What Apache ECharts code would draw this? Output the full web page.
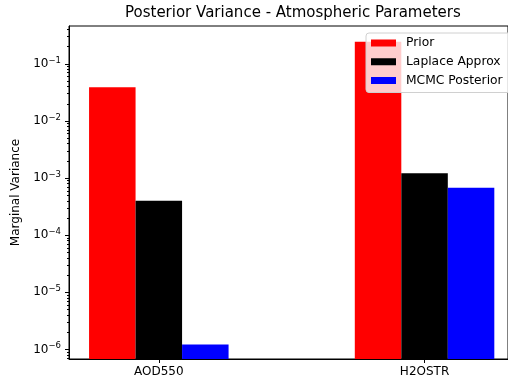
<!DOCTYPE html>
<html>
<head>
<meta charset="utf-8">
<script src="https://cdn.jsdelivr.net/npm/echarts@6/dist/echarts.min.js"></script>
<style>html,body{margin:0;padding:0;background:#fff}#c{width:508px;height:389px}</style>
</head>
<body>
<div id="c"></div>
<script>
const categories = ['AOD550', 'H2OSTR'];
const seriesNames = ['Prior', 'Laplace Approx', 'MCMC Posterior'];
const prior = [0.039, 0.243];
const laplace = [4.0e-4, 1.22e-3];
const mcmc = [1.22e-6, 6.8e-4];
const yMajorTicks = [1e-6, 1e-5, 1e-4, 1e-3, 1e-2, 1e-1];
const yExponents = ['−6', '−5', '−4', '−3', '−2', '−1'];
const colors = ['#ff0000', '#000000', '#0000ff'];

const yMin = 6.8e-7, yMax = 0.46;
const barW = 0.175; // bar width in x-axis units
const minorTicks = [];
for (let e = -7; e <= 0; e++) {
  for (let m = 2; m <= 9; m++) {
    const v = m * Math.pow(10, e);
    if (v > yMin && v < yMax) minorTicks.push(v);
  }
}

const font = 'DejaVu Sans';
const chart = echarts.init(document.getElementById('c'));
const allValues = [prior, laplace, mcmc];

function makeRender(s) {
  return function (params, api) {
    const x = api.value(0) + (s - 1) * barW;
    const top = api.coord([x, api.value(1)]);
    const bot = api.coord([x, yMin]);
    const w = api.size([barW, 0])[0];
    const rect = echarts.graphic.clipRectByRect({
      x: top[0] - w / 2, y: top[1], width: w, height: bot[1] - top[1]
    }, {
      x: params.coordSys.x, y: params.coordSys.y,
      width: params.coordSys.width, height: params.coordSys.height
    });
    return rect && {
      type: 'rect', shape: rect,
      style: { fill: colors[s] }
    };
  };
}

chart.setOption({
  animation: false,
  textStyle: { fontFamily: font },
  title: {
    text: 'Posterior Variance - Atmospheric Parameters',
    left: 125, top: 6, padding: 0,
    textStyle: { fontFamily: font, fontWeight: 'normal', fontSize: 15, color: '#000' }
  },
  grid: {
    left: 69, right: -1, top: 26, bottom: 30,
    show: true, borderColor: '#000', borderWidth: 1, backgroundColor: 'transparent'
  },
  legend: {
    orient: 'vertical', left: 366, top: 33,
    itemWidth: 25, itemHeight: 7, itemGap: 6.75,
    padding: [4, 14, 6, 5],
    backgroundColor: 'rgba(255,255,255,0.8)',
    borderColor: '#d0d0d0', borderWidth: 1, borderRadius: 3,
    icon: 'rect',
    textStyle: { fontFamily: font, fontSize: 12.3, color: '#000', padding: [0, 0, 0, 5] },
    data: seriesNames
  },
  xAxis: {
    type: 'value', min: -0.338, max: 1.314,
    splitLine: { show: false },
    axisLine: { show: true, onZero: false, lineStyle: { color: '#000', width: 1 } },
    axisTick: { show: true, length: 4, customValues: [0, 1], lineStyle: { color: '#000' } },
    axisLabel: {
      customValues: [0, 1], margin: 7,
      fontFamily: font, fontSize: 12, color: '#000',
      formatter: v => categories[Math.round(v)] || ''
    }
  },
  yAxis: [{
    type: 'log', logBase: 10, min: yMin, max: yMax, position: 'left',
    name: 'Marginal Variance', nameLocation: 'middle', nameGap: 37,
    nameTextStyle: { fontFamily: font, fontSize: 12, color: '#000' },
    splitLine: { show: false },
    axisLine: { show: true, onZero: false, lineStyle: { color: '#000', width: 1 } },
    axisTick: { show: true, length: 4, customValues: yMajorTicks, lineStyle: { color: '#000' } },
    axisLabel: {
      customValues: yMajorTicks, margin: 8,
      color: '#000',
      formatter: v => {
        const i = yMajorTicks.findIndex(t => Math.abs(Math.log10(t) - Math.log10(v)) < 1e-6);
        return i >= 0 ? '{b|10}{s|' + yExponents[i] + '}' : '';
      },
      rich: {
        b: { fontFamily: font, fontSize: 12, color: '#000' },
        s: { fontFamily: font, fontSize: 8.5, color: '#000', verticalAlign: 'bottom', padding: [0, 0, 7, 0] }
      }
    }
  }, {
    type: 'log', logBase: 10, min: yMin, max: yMax, position: 'left', offset: 0,
    splitLine: { show: false },
    axisLine: { show: false, onZero: false },
    axisTick: { show: true, length: 2, customValues: minorTicks, lineStyle: { color: '#000' } },
    axisLabel: { show: false }
  }],
  series: seriesNames.map((name, s) => ({
    name, type: 'custom', yAxisIndex: 0,
    itemStyle: { color: colors[s] },
    renderItem: makeRender(s),
    encode: { x: 0, y: 1 },
    data: categories.map((c, i) => [i, allValues[s][i]])
  }))
});
</script>
</body>
</html>
